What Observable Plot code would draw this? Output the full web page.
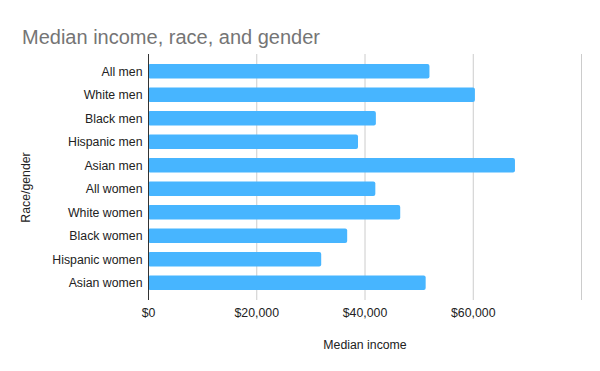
<!DOCTYPE html>
<html>
<head>
<meta charset="utf-8">
<script src="https://cdn.jsdelivr.net/npm/d3@7"></script>
<script src="https://cdn.jsdelivr.net/npm/@observablehq/plot@0.6"></script>
<style>
  body { margin: 0; background: #fff; }
  #title { height: 50px; box-sizing: border-box; padding: 27px 0 0 22px; font: 20px/20px "Liberation Sans", Arial, sans-serif; color: #757575; white-space: nowrap; }
  #chart svg { display: block; }
</style>
</head>
<body>
<div id="title">Median income, race, and gender</div>
<div id="chart"></div>
<script>
const categories = ["All men", "White men", "Black men", "Hispanic men", "Asian men", "All women", "White women", "Black women", "Hispanic women", "Asian women"];
const values = [52000, 60400, 42100, 38800, 67800, 42000, 46600, 36800, 32000, 51300];
const xTicks = [0, 20000, 40000, 60000, 80000];
const xTickLabels = [0, 20000, 40000, 60000];

const data = categories.map((c, i) => ({category: c, value: values[i]}));

const chart = Plot.plot({
  width: 600,
  height: 321,
  marginLeft: 148,
  marginRight: 19,
  marginTop: 4,
  marginBottom: 71,
  style: {fontFamily: "'Liberation Sans', Arial, sans-serif", fontSize: "12.3px", color: "#222", background: "#fff"},
  x: {domain: [0, 80000], ticks: xTickLabels, tickFormat: d => "$" + d3.format(",")(d), tickSize: 0, tickPadding: 8, label: null},
  y: {domain: categories, paddingInner: 0.38, paddingOuter: 0.42, round: false, tickSize: 0, tickPadding: 6, label: null},
  marks: [
    Plot.ruleX(xTicks.slice(1), {stroke: "#ccc"}),
    Plot.barX(data, {x: "value", y: "category", fill: "#47b5ff", rx: 2}),
    Plot.ruleX([0], {stroke: "#333"}),
    Plot.text(["Median income"], {text: d => d, frameAnchor: "bottom", textAnchor: "middle", dy: 48, fill: "#222"}),
    Plot.text(["Race/gender"], {text: d => d, frameAnchor: "left", textAnchor: "middle", dx: -122, dy: 10, rotate: -90, fill: "#222"})
  ]
});
document.getElementById("chart").appendChild(chart);
</script>
</body>
</html>
